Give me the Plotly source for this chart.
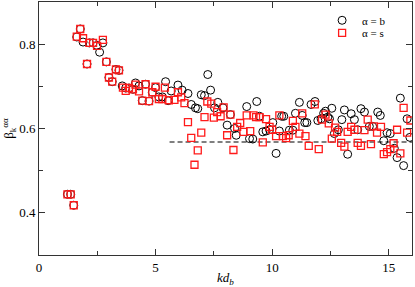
import plotly.graph_objects as go

# alpha = b (black circles)
kd_b = [1.22, 1.36, 1.49, 1.62, 1.77, 1.89, 2.06, 2.16, 2.32, 2.49, 2.60, 2.74, 2.89, 3.00, 3.14,
        3.30, 3.43, 3.57, 3.72, 3.86, 4.03, 4.14, 4.29, 4.43, 4.57, 4.72, 4.86, 5.00, 5.14, 5.29,
        5.43, 5.54, 5.67, 5.96, 6.14, 6.39, 6.53, 6.71, 6.81, 6.96, 7.10, 7.24, 7.36, 7.53, 7.67,
        7.89, 8.07, 8.21, 8.39, 8.46, 8.91, 9.03, 9.17, 9.34, 9.46, 9.60, 9.74, 9.89, 10.03, 10.17,
        10.31, 10.41, 10.50, 10.74, 10.89, 11.00, 11.17, 11.29, 11.40, 11.49, 11.67, 11.84, 11.96,
        12.10, 12.21, 12.29, 12.39, 12.46, 12.56, 12.67, 12.84, 12.99, 13.10, 13.24, 13.39, 13.53,
        13.67, 13.81, 13.96, 14.17, 14.31, 14.53, 14.64, 14.79, 14.93, 15.07, 15.24, 15.36, 15.50,
        15.64, 15.79, 15.91]
beta_b = [0.444, 0.444, 0.418, 0.817, 0.836, 0.805, 0.753, 0.803, 0.803, 0.797, 0.781, 0.803, 0.758,
          0.721, 0.711, 0.740, 0.738, 0.701, 0.696, 0.696, 0.693, 0.708, 0.701, 0.666, 0.705, 0.665,
          0.686, 0.697, 0.675, 0.675, 0.711, 0.666, 0.689, 0.703, 0.691, 0.683, 0.657, 0.649, 0.647,
          0.680, 0.678, 0.728, 0.691, 0.649, 0.662, 0.649, 0.608, 0.633, 0.600, 0.584, 0.652, 0.576,
          0.575, 0.664, 0.629, 0.592, 0.594, 0.597, 0.614, 0.541, 0.594, 0.629, 0.629, 0.596, 0.596,
          0.636, 0.662, 0.631, 0.614, 0.614, 0.657, 0.664, 0.619, 0.623, 0.636, 0.641, 0.627, 0.623,
          0.648, 0.588, 0.597, 0.621, 0.644, 0.539, 0.635, 0.621, 0.597, 0.647, 0.639, 0.605, 0.605,
          0.639, 0.631, 0.571, 0.590, 0.588, 0.553, 0.531, 0.672, 0.512, 0.623, 0.579]

# alpha = s (red squares)
kd_s = [1.22, 1.36, 1.49, 1.62, 1.77, 1.89, 2.06, 2.16, 2.32, 2.49, 2.74, 2.89, 3.00, 3.14, 3.30,
        3.43, 3.60, 3.72, 3.86, 4.03, 4.14, 4.29, 4.43, 4.57, 4.72, 4.86, 5.00, 5.14, 5.29, 5.40,
        5.57, 5.81, 5.96, 6.10, 6.24, 6.39, 6.53, 6.67, 6.81, 6.96, 7.10, 7.22, 7.39, 7.50, 7.64,
        7.79, 7.92, 8.07, 8.21, 8.34, 8.50, 8.63, 8.77, 8.91, 9.06, 9.20, 9.31, 9.46, 9.60, 9.74,
        9.89, 10.00, 10.17, 10.31, 10.46, 10.60, 10.71, 10.89, 11.00, 11.17, 11.29, 11.43, 11.57,
        11.83, 12.00, 12.14, 12.29, 12.43, 12.56, 12.70, 12.79, 12.96, 13.10, 13.24, 13.39, 13.53,
        13.67, 13.81, 13.96, 14.10, 14.24, 14.36, 14.50, 14.67, 14.79, 14.93, 15.07, 15.21, 15.36,
        15.50, 15.64, 15.79, 15.93]
beta_s = [0.444, 0.444, 0.418, 0.818, 0.836, 0.814, 0.753, 0.803, 0.803, 0.796, 0.810, 0.758, 0.721,
          0.711, 0.740, 0.738, 0.697, 0.689, 0.696, 0.693, 0.704, 0.688, 0.666, 0.705, 0.665, 0.686,
          0.699, 0.670, 0.670, 0.697, 0.667, 0.668, 0.686, 0.674, 0.660, 0.615, 0.578, 0.514, 0.548,
          0.590, 0.627, 0.664, 0.659, 0.626, 0.639, 0.629, 0.650, 0.584, 0.633, 0.549, 0.604, 0.613,
          0.592, 0.631, 0.594, 0.631, 0.627, 0.627, 0.567, 0.622, 0.604, 0.597, 0.582, 0.631, 0.582,
          0.577, 0.584, 0.618, 0.604, 0.588, 0.636, 0.582, 0.559, 0.657, 0.551, 0.621, 0.633, 0.612,
          0.576, 0.602, 0.592, 0.566, 0.557, 0.592, 0.604, 0.597, 0.566, 0.559, 0.596, 0.621, 0.563,
          0.605, 0.590, 0.604, 0.539, 0.544, 0.551, 0.565, 0.597, 0.541, 0.649, 0.590, 0.619]

# dashed reference level
ref_kd = [5.6, 16.0]
ref_beta = [0.568, 0.568]

x_ticks = [0, 5, 10, 15]
y_ticks = [0.4, 0.6, 0.8]

SERIF = "Liberation Serif, Times New Roman, serif"

fig = go.Figure()
fig.add_trace(go.Scatter(x=ref_kd, y=ref_beta, mode="lines", showlegend=False,
                         line=dict(color="black", width=1.2, dash="5px,3px"), hoverinfo="skip"))
fig.add_trace(go.Scatter(x=kd_b, y=beta_b, mode="markers", name="α = b", legend="legend",
                         marker=dict(symbol="circle-open", size=8, color="black",
                                     line=dict(color="black", width=1))))
fig.add_trace(go.Scatter(x=kd_s, y=beta_s, mode="markers", name="α = s", legend="legend2",
                         marker=dict(symbol="square-open", size=7, color="#ff1a1a",
                                     line=dict(color="#ff1a1a", width=1.3))))

axis_common = dict(showline=True, linecolor="#333", linewidth=1, mirror="ticks",
                   ticks="inside", ticklen=6, tickwidth=1, tickcolor="#333",
                   showgrid=False, zeroline=False,
                   tickfont=dict(family=SERIF, size=13, color="black"))

fig.update_xaxes(range=[0, 16], tickvals=x_ticks,
                 minor=dict(tickvals=[2.5, 7.5, 12.5], ticklen=4, ticks="inside", tickcolor="#333"),
                 title=dict(text="<i>kd</i><sub><i>b</i></sub>", font=dict(family=SERIF, size=13, color="black"),
                            standoff=2),
                 **axis_common)
fig.update_yaxes(range=[0.3, 0.9], tickvals=y_ticks, ticktext=["0.4", "0.6", "0.8"],
                 minor=dict(tickvals=[0.5, 0.7], ticklen=4, ticks="inside", tickcolor="#333"),
                 title=dict(text="β<sub>k</sub><sup>αα</sup>", font=dict(family=SERIF, size=13, color="black"),
                            standoff=2),
                 **axis_common)

legend_style = dict(xanchor="left", yanchor="top", bgcolor="rgba(0,0,0,0)",
                    font=dict(family=SERIF, size=11, color="black"), itemwidth=30)

fig.update_layout(width=415, height=287, autosize=False,
                  margin=dict(l=39, r=3, t=1, b=30),
                  paper_bgcolor="white", plot_bgcolor="white",
                  legend=dict(x=0.759, y=0.985, **legend_style),
                  legend2=dict(x=0.759, y=0.935, **legend_style))

fig.write_html("out.html", config={"displayModeBar": False},
               post_script="document.body.style.margin='0';")
